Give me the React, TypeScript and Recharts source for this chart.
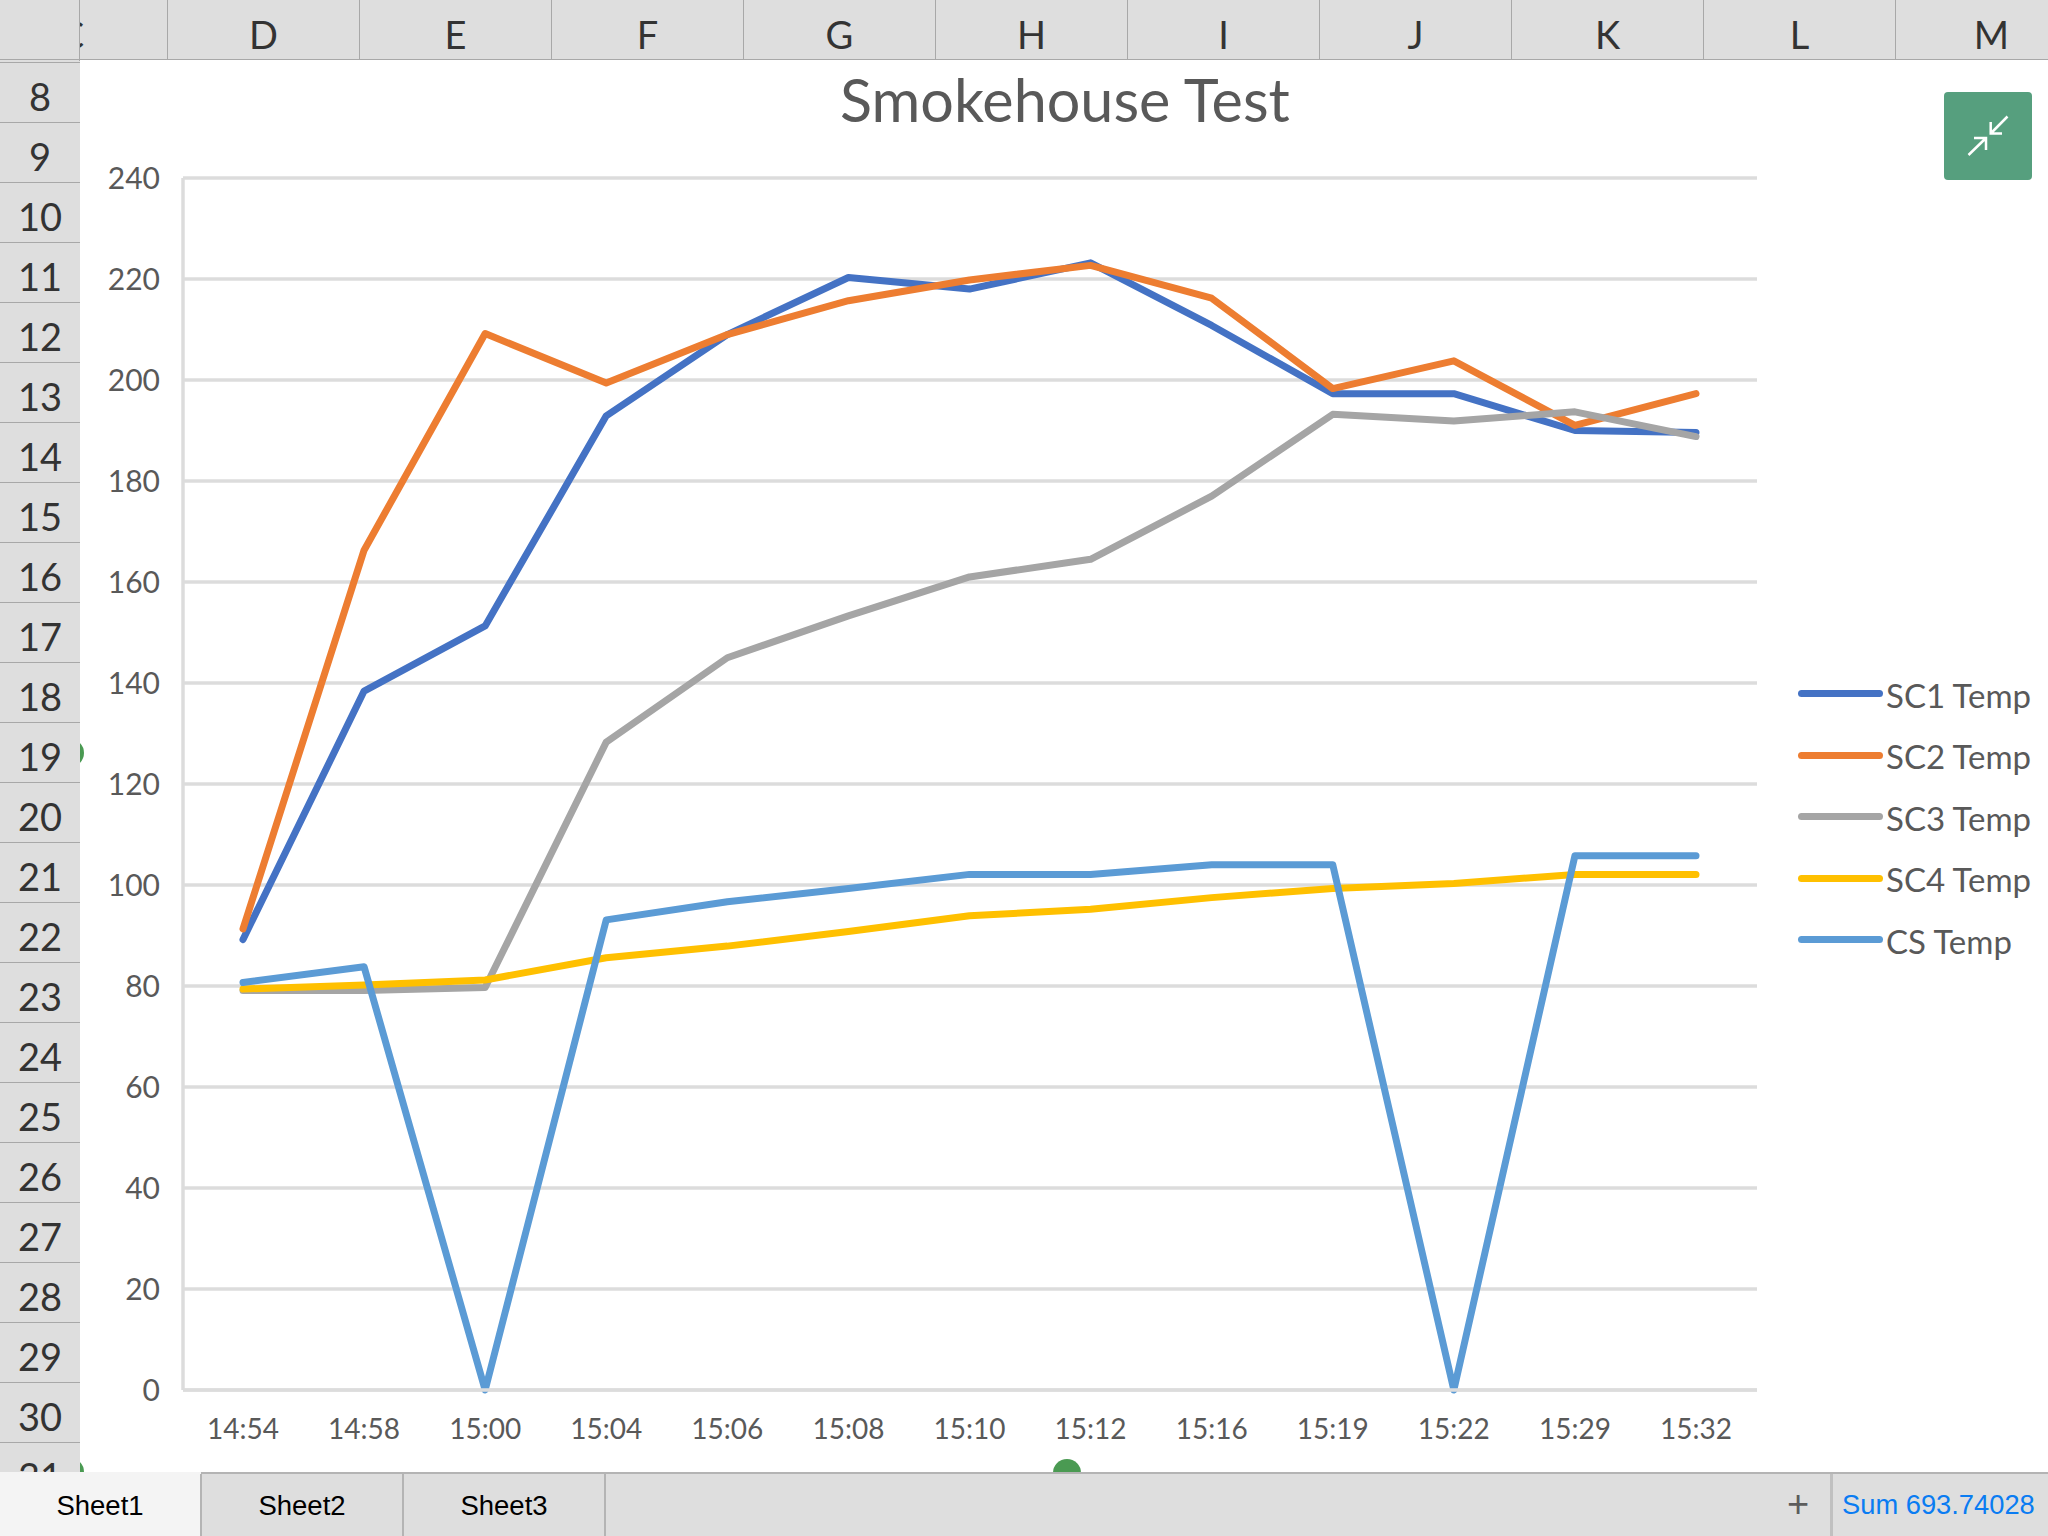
import { CartesianGrid, Legend, Line, LineChart, XAxis, YAxis } from "recharts";

const times = ["14:54", "14:58", "15:00", "15:04", "15:06", "15:08", "15:10", "15:12", "15:16", "15:19", "15:22", "15:29", "15:32"];
const sc1 = [89.2, 138.4, 151.3, 192.9, 209, 220.3, 218, 223.2, 210.8, 197.3, 197.3, 190, 189.6];
const sc2 = [91.3, 166.3, 209.2, 199.4, 209, 215.7, 219.8, 222.7, 216.2, 198.3, 203.8, 191, 197.3];
const sc3 = [79.1, 79.1, 79.7, 128.3, 145, 153.3, 161, 164.5, 177, 193.2, 191.9, 193.7, 188.8];
const sc4 = [79.4, 80.2, 81.2, 85.6, 87.9, 90.8, 93.9, 95.2, 97.5, 99.3, 100.3, 102.1, 102.1];
const cs = [80.7, 83.8, 0, 93.1, 96.7, 99.3, 102.1, 102.1, 104, 104, 0, 105.8, 105.8];
const yTicks = [0, 20, 40, 60, 80, 100, 120, 140, 160, 180, 200, 220, 240];

const columnLabels = ["C", "D", "E", "F", "G", "H", "I", "J", "K", "L", "M"];
const rowLabels = [8, 9, 10, 11, 12, 13, 14, 15, 16, 17, 18, 19, 20, 21, 22, 23, 24, 25, 26, 27, 28, 29, 30, 31];
const sheets = ["Sheet1", "Sheet2", "Sheet3"];

const data = times.map((time, i) => ({
  time,
  "SC1 Temp": sc1[i],
  "SC2 Temp": sc2[i],
  "SC3 Temp": sc3[i],
  "SC4 Temp": sc4[i],
  "CS Temp": cs[i],
}));

const series = [
  { key: "SC1 Temp", color: "#4472C4" },
  { key: "SC2 Temp", color: "#ED7D31" },
  { key: "SC3 Temp", color: "#A5A5A5" },
  { key: "SC4 Temp", color: "#FFC000" },
  { key: "CS Temp", color: "#5B9BD5" },
];

const chartFont = "Lato, sans-serif";
const uiFont = "'Liberation Sans', sans-serif";
const headerBg = "#dedede";
const headerLine = "#a8a8a8";
const gridColor = "#dcdcdc";
const labelColor = "#595959";

const LegendList = ({ payload }: any) => (
  <div>
    {(payload || []).map((item: any) => (
      <div key={item.value} style={{ display: "flex", alignItems: "center", height: 61.5 }}>
        <div style={{ width: 85, height: 7, borderRadius: 4, background: item.color }} />
        <span style={{ marginLeft: 3, marginTop: 2, fontFamily: chartFont, fontSize: 33, color: labelColor, whiteSpace: "nowrap" }}>
          {item.value}
        </span>
      </div>
    ))}
  </div>
);

const Dot = ({ x, y }: { x: number; y: number }) => (
  <div style={{ position: "absolute", left: x - 14, top: y - 14, width: 28, height: 28, borderRadius: "50%", background: "#4a9a52" }} />
);

export default function App() {
  return (
    <div style={{ position: "fixed", left: 0, top: 0, width: 2048, height: 1536, overflow: "hidden", background: "#fff" }}>
      <Dot x={70} y={753} />
      <Dot x={70} y={1472} />
      <Dot x={1067} y={1473} />

      {/* column header */}
      <div style={{ position: "absolute", left: 0, top: 0, width: 2048, height: 59, background: headerBg, borderBottom: `1px solid ${headerLine}` }}>
        {columnLabels.map((label, i) => (
          <div
            key={label}
            style={{
              position: "absolute",
              left: -24 + i * 192,
              top: 0,
              width: 192,
              height: 59,
              boxSizing: "border-box",
              borderRight: `1px solid ${headerLine}`,
              textAlign: "center",
              lineHeight: "68px",
              fontFamily: chartFont,
              fontSize: 38,
              color: "#333",
            }}
          >
            {label}
          </div>
        ))}
      </div>

      {/* row header */}
      <div style={{ position: "absolute", left: 0, top: 0, width: 80, height: 62, background: headerBg, borderRight: `1px solid ${headerLine}`, boxSizing: "border-box" }} />
      <div style={{ position: "absolute", left: 0, top: 59, width: 80, height: 1, background: headerLine }} />
      <div style={{ position: "absolute", left: 0, top: 61, width: 80, height: 1461, background: headerBg }}>
        {rowLabels.map((label, i) => (
          <div
            key={label}
            style={{
              position: "absolute",
              left: 0,
              top: 1 + i * 60,
              width: 80,
              height: 60,
              boxSizing: "border-box",
              borderTop: `1px solid ${headerLine}`,
              textAlign: "center",
              lineHeight: "66px",
              fontFamily: chartFont,
              fontSize: 38,
              color: "#333",
            }}
          >
            {label}
          </div>
        ))}
      </div>

      <div style={{ position: "absolute", left: 840, top: 59, whiteSpace: "nowrap", fontFamily: chartFont, fontSize: 59.3, lineHeight: "80px", color: labelColor }}>
        Smokehouse Test
      </div>

      <div style={{ position: "absolute", left: 0, top: 0 }}>
        <LineChart width={2048} height={1536} data={data} margin={{ top: 178, right: 291, bottom: 86, left: 83 }}>
          <CartesianGrid vertical={false} stroke={gridColor} strokeWidth={3.5} />
          <XAxis
            dataKey="time"
            interval={0}
            height={60}
            padding={{ left: 60, right: 61 }}
            axisLine={{ stroke: gridColor, strokeWidth: 3.5 }}
            tickLine={false}
            tickMargin={23}
            tick={{ fill: labelColor, fontSize: 28, fontFamily: chartFont }}
          />
          <YAxis
            width={100}
            domain={[0, 240]}
            ticks={yTicks}
            interval={0}
            axisLine={{ stroke: gridColor, strokeWidth: 3.5 }}
            tickLine={false}
            tickMargin={17}
            tick={{ fill: labelColor, fontSize: 30, fontFamily: chartFont }}
          />
          <Legend
            layout="vertical"
            align="center"
            verticalAlign="middle"
            itemSorter={null}
            content={<LegendList />}
            wrapperStyle={{ left: 1798, top: 663, width: 240 }}
          />
          {series.map((s) => (
            <Line
              key={s.key}
              type="linear"
              dataKey={s.key}
              stroke={s.color}
              strokeWidth={7}
              strokeLinecap="round"
              strokeLinejoin="round"
              dot={false}
              isAnimationActive={false}
            />
          ))}
        </LineChart>
      </div>

      {/* shrink button */}
      <div style={{ position: "absolute", left: 1944, top: 92, width: 88, height: 88, borderRadius: 4, background: "#569f7e" }}>
        <svg width={88} height={88} fill="none" stroke="#fff" strokeWidth={2.5}>
          <path d="M24.5 63 L42 46 M30 46 H42 V58" />
          <path d="M63.5 24.5 L46.7 41.5 M46.7 30 V41.5 H58" />
        </svg>
      </div>

      {/* tab bar */}
      <div style={{ position: "absolute", left: 0, top: 1472, width: 2048, height: 64, background: headerBg, boxSizing: "border-box", borderTop: "2px solid #b4b4b4" }}>
        <div style={{ position: "absolute", left: 0, top: -2, width: 201, height: 64, background: "#f4f4f4" }} />
        {sheets.map((name, i) => (
          <div
            key={name}
            style={{
              position: "absolute",
              left: i * 202,
              top: 0,
              width: 202,
              height: 62,
              boxSizing: "border-box",
              borderRight: "2px solid #b4b4b4",
              textAlign: "center",
              lineHeight: "64px",
              fontFamily: uiFont,
              fontSize: 27.5,
              color: "#000",
            }}
          >
            {name}
          </div>
        ))}
        <div style={{ position: "absolute", left: 1778, top: 0, width: 40, textAlign: "center", lineHeight: "60px", fontFamily: uiFont, fontSize: 38, color: "#5c5c5c" }}>+</div>
        <div style={{ position: "absolute", left: 1830, top: 0, width: 3, height: 62, background: "#c0c0c0" }} />
        <div style={{ position: "absolute", left: 1842, top: 0, lineHeight: "62px", fontFamily: uiFont, fontSize: 27.3, color: "#0a7cf2", whiteSpace: "nowrap" }}>Sum 693.74028</div>
      </div>
    </div>
  );
}
